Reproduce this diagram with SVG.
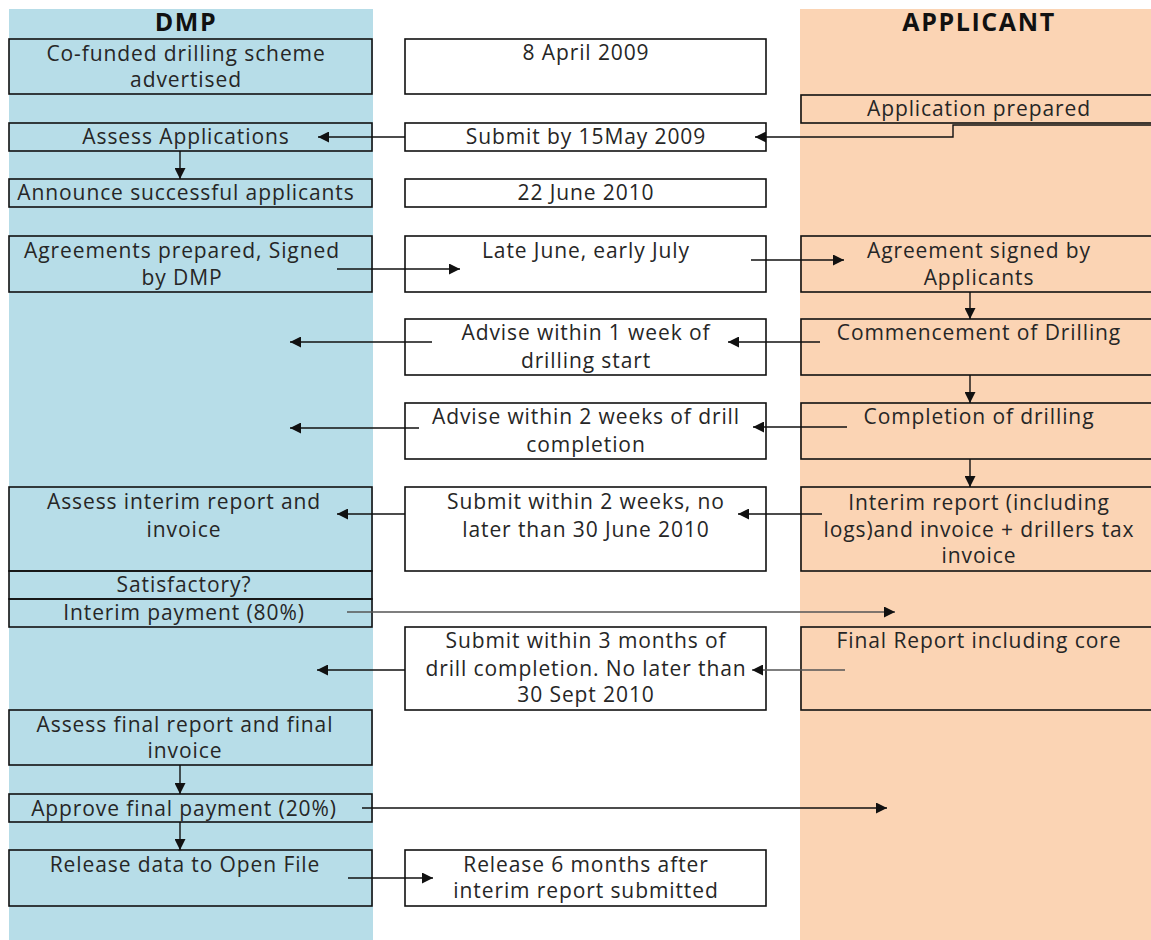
<svg xmlns="http://www.w3.org/2000/svg" width="1151" height="940" viewBox="0 0 1151 940">
<defs>
<style>
.t{font-family:"Open Sans","Noto Sans",sans-serif;font-size:21px;letter-spacing:0.9px;fill:#262626;text-anchor:middle}
.h{font-family:"Open Sans","Noto Sans",sans-serif;font-size:25px;letter-spacing:1.6px;font-weight:bold;fill:#111;text-anchor:middle}
.b{fill:none;stroke:#111;stroke-width:1.6}
.bw{fill:#fff;stroke:#111;stroke-width:1.6}
.c{fill:none;stroke:#111;stroke-width:1.4;marker-end:url(#ah)}
.g{fill:none;stroke:#555;stroke-width:1.4;marker-end:url(#ah)}
</style>
<marker id="ah" viewBox="0 0 10 10" refX="10" refY="5" markerWidth="14" markerHeight="11" markerUnits="userSpaceOnUse" orient="auto"><path d="M0,0L10,5L0,10z" fill="#111"/></marker>
</defs>
<rect width="1151" height="940" fill="#fff"/>
<rect x="9" y="9" width="364" height="931" fill="#b7dde8"/>
<rect x="800" y="9" width="351" height="931" fill="#fbd4b4"/>
<text class="h" x="186" y="31">DMP</text>
<text class="h" x="979" y="31">APPLICANT</text>

<g id="dmp1"><rect class="b" x="9" y="39" width="363" height="55"/><text class="t" x="186" y="61">Co-funded drilling scheme</text><text class="t" x="186" y="87">advertised</text></g>
<g id="dmp2"><rect class="b" x="9" y="123" width="363" height="28"/><text class="t" x="186" y="144">Assess Applications</text></g>
<g id="dmp3"><rect class="b" x="9" y="179" width="363" height="28"/><text class="t" x="186" y="200">Announce successful applicants</text></g>
<g id="dmp4"><rect class="b" x="9" y="236" width="363" height="56"/><text class="t" x="182" y="258">Agreements prepared, Signed</text><text class="t" x="182" y="285">by DMP</text></g>
<g id="dmp5"><rect class="b" x="9" y="487" width="363" height="84"/><text class="t" x="184" y="509">Assess interim report and</text><text class="t" x="184" y="537">invoice</text></g>
<g id="dmp6"><rect class="b" x="9" y="571" width="363" height="28"/><text class="t" x="184" y="592">Satisfactory?</text></g>
<g id="dmp7"><rect class="b" x="9" y="599" width="363" height="28"/><text class="t" x="184" y="620">Interim payment (80%)</text></g>
<g id="dmp8"><rect class="b" x="9" y="710" width="363" height="55"/><text class="t" x="185" y="732">Assess final report and final</text><text class="t" x="185" y="758">invoice</text></g>
<g id="dmp9"><rect class="b" x="9" y="794" width="363" height="28"/><text class="t" x="184" y="816">Approve final payment (20%)</text></g>
<g id="dmp10"><rect class="b" x="9" y="850" width="363" height="56"/><text class="t" x="185" y="872">Release data to Open File</text></g>

<g id="mid1"><rect class="bw" x="405" y="39" width="361" height="55"/><text class="t" x="586" y="60">8 April 2009</text></g>
<g id="mid2"><rect class="bw" x="405" y="123" width="361" height="28"/><text class="t" x="586" y="144">Submit by 15May 2009</text></g>
<g id="mid3"><rect class="bw" x="405" y="179" width="361" height="28"/><text class="t" x="586" y="200">22 June 2010</text></g>
<g id="mid4"><rect class="bw" x="405" y="236" width="361" height="56"/><text class="t" x="586" y="258">Late June, early July</text></g>
<g id="mid5"><rect class="bw" x="405" y="319" width="361" height="56"/><text class="t" x="586" y="340">Advise within 1 week of</text><text class="t" x="586" y="368">drilling start</text></g>
<g id="mid6"><rect class="bw" x="405" y="403" width="361" height="56"/><text class="t" x="586" y="424">Advise within 2 weeks of drill</text><text class="t" x="586" y="452">completion</text></g>
<g id="mid7"><rect class="bw" x="405" y="487" width="361" height="84"/><text class="t" x="586" y="509">Submit within 2 weeks, no</text><text class="t" x="586" y="537">later than 30 June 2010</text></g>
<g id="mid8"><rect class="bw" x="405" y="627" width="361" height="83"/><text class="t" x="586" y="648">Submit within 3 months of</text><text class="t" x="586" y="676">drill completion. No later than</text><text class="t" x="586" y="702">30 Sept 2010</text></g>
<g id="mid9"><rect class="bw" x="405" y="850" width="361" height="56"/><text class="t" x="586" y="872">Release 6 months after</text><text class="t" x="586" y="898">interim report submitted</text></g>

<g id="app1"><rect class="b" x="801" y="95" width="352" height="28"/><text class="t" x="979" y="116">Application prepared</text></g>
<g id="app2"><rect class="b" x="801" y="236" width="352" height="56"/><text class="t" x="979" y="258">Agreement signed by</text><text class="t" x="979" y="285">Applicants</text></g>
<g id="app3"><rect class="b" x="801" y="319" width="352" height="56"/><text class="t" x="979" y="340">Commencement of Drilling</text></g>
<g id="app4"><rect class="b" x="801" y="403" width="352" height="56"/><text class="t" x="979" y="424">Completion of drilling</text></g>
<g id="app5"><rect class="b" x="801" y="487" width="352" height="84"/><text class="t" x="979" y="510">Interim report (including</text><text class="t" x="979" y="537">logs)and invoice + drillers tax</text><text class="t" x="979" y="563">invoice</text></g>
<g id="app6"><rect class="b" x="801" y="627" width="352" height="83"/><text class="t" x="979" y="648">Final Report including core</text></g>

<g id="connectors">
<path class="c" d="M1151,125H953V137H755"/>
<path class="c" d="M405,137H318"/>
<path class="c" d="M180,151V179"/>
<path class="c" d="M337,269H460"/>
<path class="c" d="M751,260H844"/>
<path class="c" d="M970,292V319"/>
<path class="c" d="M820,342H728"/>
<path class="c" d="M432,342H290"/>
<path class="c" d="M970,375V403"/>
<path class="c" d="M847,427H753"/>
<path class="c" d="M419,428H290"/>
<path class="c" d="M970,459V487"/>
<path class="c" d="M822,514H738"/>
<path class="c" d="M405,514H337"/>
<path class="g" d="M347,612H895"/>
<path class="g" d="M845,670H752"/>
<path class="c" d="M405,670H317"/>
<path class="c" d="M180,765V794"/>
<path class="c" d="M180,822V850"/>
<path class="c" d="M362,808H887"/>
<path class="c" d="M348,878H433"/>
</g>
</svg>
